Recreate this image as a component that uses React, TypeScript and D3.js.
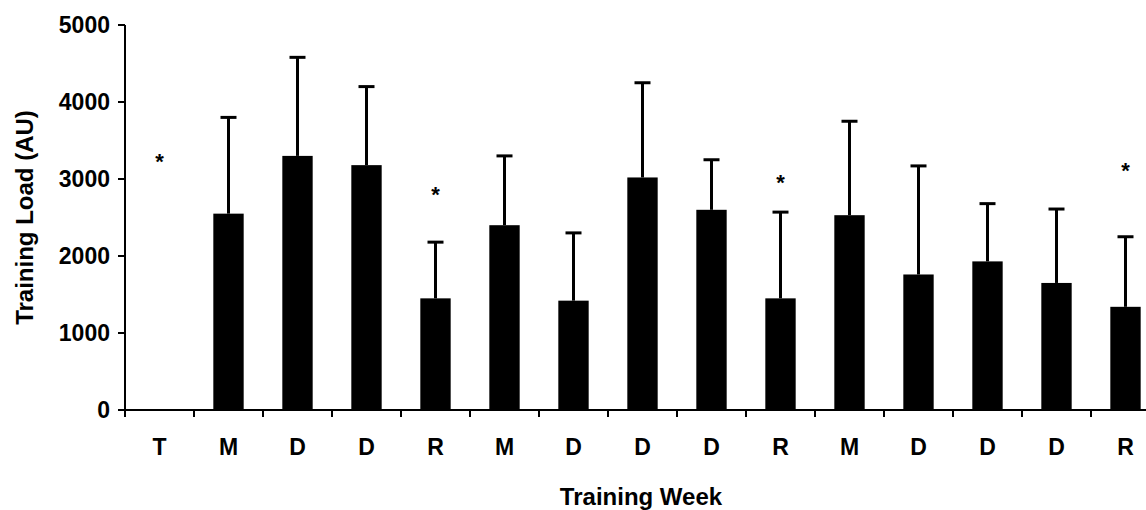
import React from 'react';
import * as d3 from 'd3';

// Training phases for each week
const weeks = ['T', 'M', 'D', 'D', 'R', 'M', 'D', 'D', 'D', 'R', 'M', 'D', 'D', 'D', 'R'];
// mean training load (AU), null where no bar
const means = [null, 2550, 3300, 3180, 1450, 2400, 1420, 3020, 2600, 1450, 2530, 1760, 1930, 1650, 1340];
// mean + SD (top of error bar)
const errTops = [null, 3800, 4580, 4200, 2180, 3300, 2300, 4250, 3250, 2570, 3750, 3170, 2680, 2610, 2250];
// asterisk positions (AU), null where none
const stars = [3270, null, null, null, 2850, null, null, null, null, 3000, null, null, null, null, 3160];
const yTicks = [0, 1000, 2000, 3000, 4000, 5000];

const W = 1146;
const H = 510;
const margin = { left: 125, top: 25, bottom: 100 };

export default function App() {
  const x = d3.scaleBand<number>()
    .domain(d3.range(weeks.length))
    .range([margin.left, 1160])
    .paddingInner(0.56)
    .paddingOuter(0.28);
  const step = x.step();
  const x0 = margin.left;
  const y = d3.scaleLinear().domain([0, 5000]).range([H - margin.bottom, margin.top]);
  const font = '"Liberation Sans", Arial, sans-serif';

  return (
    <svg width={W} height={H} style={{ position: 'absolute', left: 0, top: 0, background: '#fff' }}>
      {/* bars */}
      {means.map((m, i) => m == null ? null : (
        <rect key={'b' + i} x={x(i)} y={y(m)} width={x.bandwidth()} height={y(0) - y(m)} fill="#000" />
      ))}
      {/* error bars */}
      {errTops.map((e, i) => {
        if (e == null || means[i] == null) return null;
        const cx = (x(i) as number) + x.bandwidth() / 2;
        return (
          <g key={'e' + i} stroke="#000" strokeWidth={3}>
            <line x1={cx} x2={cx} y1={y(means[i] as number)} y2={y(e)} />
            <line x1={cx - 8} x2={cx + 8} y1={y(e)} y2={y(e)} />
          </g>
        );
      })}
      {/* asterisks */}
      {stars.map((s, i) => s == null ? null : (
        <text key={'s' + i} x={(x(i) as number) + x.bandwidth() / 2} y={y(s) + 11} textAnchor="middle"
          fontFamily={font} fontWeight="bold" fontSize={22}>*</text>
      ))}
      {/* y axis */}
      <line x1={x0} x2={x0} y1={y(5000)} y2={y(0)} stroke="#000" strokeWidth={2} />
      {yTicks.map(t => (
        <g key={'y' + t}>
          <line x1={x0 - 7} x2={x0} y1={y(t)} y2={y(t)} stroke="#000" strokeWidth={2} />
          <text x={x0 - 15} y={y(t)} dy="0.36em" textAnchor="end" fontFamily={font} fontWeight="bold" fontSize={23}>{t}</text>
        </g>
      ))}
      {/* x axis */}
      <line x1={x0} x2={W} y1={y(0)} y2={y(0)} stroke="#000" strokeWidth={2} />
      {d3.range(weeks.length + 1).map(i => (
        <line key={'xt' + i} x1={x0 + i * step} x2={x0 + i * step} y1={y(0)} y2={y(0) + 7} stroke="#000" strokeWidth={2} />
      ))}
      {weeks.map((w, i) => (
        <text key={'xl' + i} x={(x(i) as number) + x.bandwidth() / 2} y={y(0) + 45} textAnchor="middle"
          fontFamily={font} fontWeight="bold" fontSize={23}>{w}</text>
      ))}
      {/* axis titles */}
      <text x={641} y={505} textAnchor="middle" fontFamily={font} fontWeight="bold" fontSize={24}>Training Week</text>
      <text transform={`translate(33,${(y(0) + y(5000)) / 2}) rotate(-90)`} textAnchor="middle"
        fontFamily={font} fontWeight="bold" fontSize={24}>Training Load (AU)</text>
    </svg>
  );
}
